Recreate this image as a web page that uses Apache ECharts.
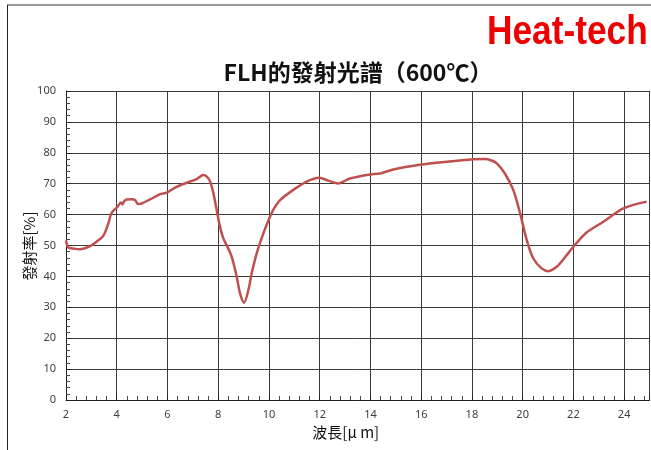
<!DOCTYPE html>
<html>
<head>
<meta charset="utf-8">
<script src="https://cdn.jsdelivr.net/npm/echarts@6/dist/echarts.min.js"></script>
<style>
html,body{margin:0;padding:0;background:#fff;}
#c{width:651px;height:450px;}
</style>
</head>
<body>
<div id="c"></div>
<script>
var titleText = 'FLH的發射光譜（600℃）';
var brandText = 'Heat-tech';
var xName = '波長[μ m]';
var yName = '發射率[%]';
var wavelength = [2.0,2.1,2.3,2.55,2.95,3.2,3.47,3.67,3.8,4.02,4.17,4.23,4.29,4.39,4.59,4.72,4.85,4.98,5.31,5.71,5.97,6.36,6.76,7.15,7.41,7.55,7.68,7.81,7.94,8.07,8.2,8.35,8.53,8.73,8.86,9.02,9.19,9.32,9.52,9.78,10.04,10.2,10.44,10.96,11.49,11.98,12.34,12.73,13.19,13.98,14.38,14.9,15.95,17.01,18.05,18.5,18.75,18.98,19.3,19.63,19.9,20.16,20.42,20.75,21.01,21.34,21.67,22.0,22.52,23.18,23.97,24.89];
var emissivity = [51.6,49.3,49.0,48.8,49.8,51.2,53.1,57.2,60.6,62.4,63.9,63.3,64.3,64.9,65.0,64.7,63.4,63.6,64.9,66.6,67.1,69.0,70.3,71.5,72.8,72.3,70.7,66.9,61.5,56.1,52.3,49.8,46.4,39.9,34.5,31.5,35.6,41.0,47.5,53.9,59.3,62.0,64.7,68.0,70.7,71.9,71.0,70.1,71.7,73.0,73.3,74.6,76.1,77.1,77.9,78.0,77.6,76.6,73.3,68.0,60.4,51.8,45.8,42.6,41.7,43.1,46.2,49.6,54.2,57.7,62.0,64.2];

var pts = wavelength.map(function(x,i){return [x, emissivity[i]];});
var chart = echarts.init(document.getElementById('c'), null, {renderer:'canvas'});
var lbl = {color:'#404040', fontSize:11, fontFamily:'"Noto Sans","DejaVu Sans",sans-serif'};
chart.setOption({
  animation:false,
  backgroundColor:'#fff',
  title:{text:titleText, left:353, textAlign:'center', top:56,
    textStyle:{fontSize:23, fontWeight:'bold', color:'#111', fontFamily:'"Noto Sans CJK TC","Noto Sans",sans-serif'}},
  graphic:[
    {type:'line', shape:{x1:7,y1:5,x2:651,y2:5}, style:{stroke:'#999', lineWidth:2}},
    {type:'line', shape:{x1:7.5,y1:5,x2:7.5,y2:450}, style:{stroke:'#222', lineWidth:1}},
    {type:'text', x:487, y:12, scaleX:0.86, style:{text:brandText, fill:'#ee0000', fontSize:41, fontWeight:'bold',
      fontFamily:'"Liberation Sans","Arial",sans-serif'}},
    {type:'text', x:29, y:246, rotation:Math.PI/2, style:{text:yName, fill:'#111', fontSize:15,
      textAlign:'center', textVerticalAlign:'middle', fontFamily:'"Noto Sans CJK TC",sans-serif'}}
  ],
  grid:{left:66, right:1.5, top:91, bottom:50},
  xAxis:{type:'value', min:2, max:25, interval:2,
    name:xName, nameLocation:'middle', nameGap:25,
    nameTextStyle:{fontSize:15, color:'#111', fontFamily:'"Noto Sans CJK TC",sans-serif', padding:[0,24,0,0]},
    axisLine:{show:true, onZero:false, lineStyle:{color:'#222', width:1}},
    axisTick:{show:true, inside:true, length:5, lineStyle:{color:'#222'}},
    minorTick:{show:true, splitNumber:5, length:4, lineStyle:{color:'#444'}},
    axisLabel:Object.assign({showMaxLabel:false, margin:9}, lbl),
    splitLine:{show:true, lineStyle:{color:'#3a3a3a', width:1}}
  },
  yAxis:{type:'value', min:0, max:100, interval:10,
    axisLine:{show:true, lineStyle:{color:'#222', width:1}},
    axisTick:{show:true, inside:true, length:5, lineStyle:{color:'#222'}},
    minorTick:{show:true, splitNumber:5, length:4, lineStyle:{color:'#444'}},
    axisLabel:Object.assign({margin:10}, lbl),
    splitLine:{show:true, lineStyle:{color:'#3a3a3a', width:1}}
  },
  series:[{type:'line', data:pts, showSymbol:false, smooth:0.3,
    lineStyle:{color:'#c0504d', width:2.5}}]
});
</script>
</body>
</html>
